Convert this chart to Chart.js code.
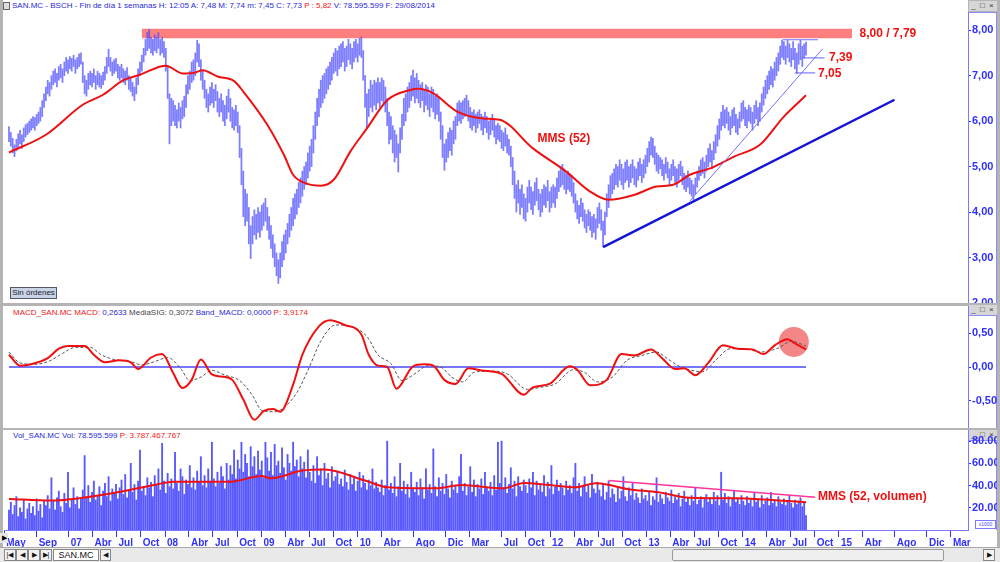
<!DOCTYPE html>
<html>
<head>
<meta charset="utf-8">
<script src="https://cdn.jsdelivr.net/npm/chart.js@4.4.1/dist/chart.umd.min.js"></script>
<style>
  body { margin: 0; width: 1000px; height: 562px; overflow: hidden; position: relative; background: #b4b4b4; font-family: "Liberation Sans", Arial, sans-serif; }
  .abs { position: absolute; }
  .pane { position: absolute; left: 3px; width: 965px; background: #fff; }
  .axcol { position: absolute; left: 968px; width: 28px; background: #fff; border-right: 1px solid #8c8cff; border-top: 1px solid #8c8cff; }
  .winbtn { position: absolute; left: 969px; width: 28px; height: 10px; font-size: 8px; line-height: 10px; color: #333; letter-spacing: 1px; text-align: center; background: #d6d6d6; }
  .ttl { position: absolute; left: 13px; font-size: 8px; line-height: 10px; white-space: nowrap; color: #2a2ad8; }
  .red { color: #f01818; }
  .dk { color: #444; }
  canvas { position: absolute; left: 0; }
  .btn { position: absolute; top: 549px; height: 10px; font-size: 7px; line-height: 10px; text-align: center; background: #f2f2f2; border: 1px solid #888; color: #111; }
</style>
</head>
<body>
<div class="pane" style="top:0;height:303px"></div>
<div class="pane" style="top:306px;height:122px"></div>
<div class="pane" style="top:430px;height:117px;width:994px"></div>
<div class="axcol" style="top:12px;height:290px"></div>
<div class="axcol" style="top:315px;height:112px"></div>
<div class="axcol" style="top:440px;height:89px"></div>
<div class="winbtn" style="top:1px">_ &#9633; &#215;</div>
<div class="winbtn" style="top:305px">_ &#9633; &#215;</div>
<div class="winbtn" style="top:430px">_ &#9633; &#215;</div>
<div class="abs" style="left:3px;top:2px;width:5px;height:6px;border:1px solid #666;background:#ddd"></div>

<div class="ttl" style="top:1px;left:12px">SAN.MC - BSCH - Fin de día 1 semanas H: 12:05 A: 7,48 M: 7,74 m: 7,45 C: 7,73 <span class="red">P : 5,82</span> V: 78.595.599 F: 29/08/2014</div>
<div class="ttl" style="top:308px"><span class="red">MACD_SAN.MC MACD:</span> 0,2633 <span class="dk">MediaSIG: 0,3072</span> Band_MACD: 0,0000 <span class="red">P: 3,9174</span></div>
<div class="ttl" style="top:431px">Vol_SAN.MC Vol: 78.595.599 <span class="red">P: 3.787.467.767</span></div>

<canvas id="cPrice" width="997" height="291" style="top:12px"></canvas>
<canvas id="cMacd" width="997" height="122" style="top:306px"></canvas>
<canvas id="cVol" width="997" height="117" style="top:430px"></canvas>

<div class="abs" style="left:10px;top:287px;width:45px;height:10px;border:1px solid #556;background:#c9d3e6;font-size:8px;line-height:10px;text-align:center;color:#223">Sin órdenes</div>
<div class="abs" style="left:975px;top:520px;width:19px;height:7px;border:1px solid #7a7aff;background:#fff;font-size:5px;line-height:7px;color:#44f;text-align:center">x1000</div>
<div class="abs" style="left:0;top:533px;width:8px;height:10px;background:#e6e6e6;font-size:7px;line-height:10px;text-align:center">&#9654;</div>

<div class="abs" style="left:0;top:547px;width:1000px;height:15px;background:#e9e9e9;border-top:1px solid #a8a8a8"></div>
<div class="btn" style="left:4px;width:10px">|&#9664;</div>
<div class="btn" style="left:16px;width:10px">&#9664;</div>
<div class="btn" style="left:28px;width:10px">&#9654;</div>
<div class="btn" style="left:40px;width:10px">&#9654;|</div>
<div class="btn" style="left:53px;width:44px;background:#fff;font-size:9px">SAN.MC</div>
<div class="btn" style="left:100px;width:9px">&#9664;</div>
<div class="btn" style="left:672px;width:270px;background:#efefef;border-color:#9a9a9a;border-radius:2px"></div>
<div class="btn" style="left:983px;width:10px">&#9654;</div>

<script>
// weekly bars, first one on 19 May 2006, last one on 29 Aug 2014 (x = week number)
const START = Date.UTC(2006, 4, 19);

const priceLow = [
  5.55,5.45,5.30,5.22,5.35,5.42,5.50,5.40,5.55,5.65, 5.70,5.75,5.80,5.85,5.80,5.90,5.95,6.00,6.10,6.30,
  6.45,6.60,6.55,6.70,6.80,6.85,6.75,6.90,6.95,6.85, 7.00,7.10,7.05,7.15,7.10,7.20,7.05,7.15,7.20,7.25,
  6.85,6.60,6.55,6.70,6.80,6.75,6.85,6.70,6.80,6.75, 6.72,6.80,6.90,7.05,7.20,7.10,7.00,7.05,7.10,6.95,
  6.90,6.95,6.85,6.80,6.90,6.70,6.65,6.55,6.45,6.60, 6.80,7.00,7.10,7.30,7.45,7.55,7.60,7.50,7.45,7.55,
  7.50,7.60,7.45,7.50,7.40,7.10,6.50,5.50,5.90,6.00, 5.90,5.85,6.00,5.85,6.05,6.10,6.30,6.60,6.70,6.85,
  6.90,7.00,7.30,7.20,6.90,6.70,6.50,6.30,6.20,6.35, 6.40,6.30,6.45,6.20,6.10,6.20,6.00,5.90,6.05,6.20,
  6.00,5.85,5.80,5.90,5.75,5.20,4.60,3.90,3.70,3.80, 3.30,2.98,3.30,3.50,3.40,3.55,3.45,3.60,3.70,3.80,
  3.60,3.40,3.20,3.00,2.80,2.60,2.43,2.55,2.80,2.95, 3.10,3.30,3.45,3.60,3.70,3.85,3.95,4.10,4.20,4.35,
  4.50,4.60,4.75,4.90,5.00,5.30,5.60,5.90,6.10,6.30, 6.40,6.50,6.60,6.70,6.80,6.90,7.05,7.10,7.00,7.15,
  7.20,7.30,7.10,7.20,7.35,7.25,7.15,7.30,7.40,7.30, 7.45,7.40,6.90,6.30,5.85,6.10,6.30,6.20,6.35,6.25,
  6.40,6.30,6.45,6.35,6.20,5.90,5.50,5.60,5.30,5.10, 5.20,4.88,5.30,5.60,5.90,6.00,6.20,6.30,6.45,6.55,
  6.40,6.50,6.40,6.30,6.45,6.20,6.35,6.25,6.10,6.30, 6.20,6.05,6.15,6.00,5.60,5.20,4.92,5.10,5.20,5.35,
  5.25,5.50,5.60,5.90,6.00,5.95,6.05,6.10,6.15,6.00, 5.85,5.80,5.90,5.75,5.85,5.95,5.80,5.70,5.85,5.75,
  5.60,5.70,5.80,5.65,5.50,5.60,5.55,5.40,5.35,5.45, 5.30,5.25,5.00,4.60,4.30,4.00,4.20,3.95,4.10,3.85,
  3.80,4.00,4.20,4.05,3.95,4.15,4.25,4.05,3.90,4.00, 4.15,4.10,4.25,4.00,4.10,4.20,4.10,4.30,4.45,4.55,
  4.60,4.50,4.40,4.50,4.45,4.35,4.20,4.00,3.85,3.75, 3.90,3.80,3.65,3.55,3.70,3.60,3.45,3.55,3.40,3.65,
  3.75,3.60,3.24,3.50,3.90,4.10,4.30,4.40,4.50,4.60, 4.55,4.70,4.60,4.50,4.65,4.70,4.55,4.65,4.75,4.60,
  4.55,4.70,4.80,4.65,4.75,4.85,5.00,5.10,5.25,5.20, 5.05,4.90,4.85,4.95,4.80,4.70,4.85,4.75,4.60,4.70,
  4.80,4.65,4.55,4.70,4.80,4.60,4.50,4.45,4.55,4.40, 4.35,4.27,4.40,4.55,4.70,4.80,4.85,4.75,4.90,5.00,
  5.10,4.95,5.15,5.30,5.45,5.60,5.80,5.90,5.85,5.95, 5.80,5.70,5.85,5.90,5.75,5.70,5.85,6.00,6.05,5.90,
  5.85,6.00,5.95,5.80,5.95,6.05,5.90,6.00,6.20,6.35, 6.50,6.60,6.70,6.80,6.75,6.90,7.00,7.10,7.25,7.40,
  7.35,7.25,7.40,7.30,7.20,7.35,7.15,7.05,7.25,7.35, 7.20,7.39,7.45
];
const priceHigh = [
  5.88,5.75,5.62,5.48,5.60,5.72,5.80,5.70,5.85,5.92, 5.95,6.00,6.05,6.10,6.08,6.15,6.20,6.30,6.45,6.60,
  6.75,6.90,6.85,7.00,7.10,7.15,7.05,7.20,7.25,7.15, 7.30,7.40,7.35,7.42,7.38,7.45,7.35,7.40,7.48,7.50,
  7.30,7.00,6.90,7.05,7.10,7.05,7.15,7.00,7.10,7.05, 7.00,7.08,7.20,7.40,7.58,7.40,7.30,7.35,7.38,7.25,
  7.20,7.25,7.15,7.10,7.18,7.00,6.95,6.85,6.75,6.95, 7.15,7.30,7.45,7.60,7.80,7.95,8.02,7.85,7.80,7.90,
  7.85,7.95,7.80,7.85,7.75,7.60,7.20,6.60,6.50,6.45, 6.35,6.25,6.40,6.30,6.45,6.55,6.80,7.00,7.10,7.30,
  7.35,7.50,7.78,7.70,7.35,7.10,6.90,6.70,6.60,6.75, 6.85,6.70,6.80,6.65,6.50,6.60,6.45,6.35,6.55,6.70,
  6.50,6.30,6.25,6.35,6.20,5.90,5.40,4.90,4.50,4.40, 4.10,3.70,3.90,4.05,3.95,4.10,4.00,4.15,4.20,4.30,
  4.10,3.90,3.70,3.50,3.30,3.10,2.95,3.10,3.35,3.50, 3.60,3.75,3.95,4.10,4.30,4.40,4.50,4.65,4.75,4.90,
  5.00,5.10,5.30,5.45,5.60,5.90,6.20,6.50,6.70,6.90, 7.00,7.05,7.15,7.20,7.30,7.40,7.50,7.60,7.55,7.65,
  7.70,7.75,7.60,7.65,7.80,7.70,7.60,7.75,7.80,7.70, 7.82,7.85,7.55,7.00,6.60,6.70,6.90,6.80,6.90,6.85,
  6.95,6.85,6.95,6.90,6.75,6.50,6.20,6.10,5.90,5.80, 5.70,5.50,5.85,6.15,6.50,6.60,6.75,6.85,7.00,7.12,
  6.95,7.05,6.90,6.80,6.85,6.70,6.80,6.75,6.60,6.75, 6.70,6.55,6.60,6.50,6.20,5.90,5.50,5.60,5.75,5.85,
  5.80,6.00,6.10,6.40,6.45,6.40,6.45,6.50,6.57,6.45, 6.30,6.20,6.25,6.15,6.20,6.25,6.15,6.10,6.20,6.10,
  6.00,6.05,6.15,6.05,5.90,5.95,5.90,5.80,5.75,5.85, 5.70,5.60,5.45,5.20,4.90,4.60,4.70,4.50,4.60,4.40,
  4.30,4.55,4.70,4.55,4.45,4.65,4.75,4.50,4.40,4.50, 4.60,4.55,4.70,4.45,4.55,4.60,4.55,4.75,4.90,5.00,
  5.05,4.95,4.85,4.90,4.85,4.80,4.65,4.40,4.25,4.15, 4.30,4.20,4.05,3.95,4.05,4.00,3.90,3.95,3.85,4.10,
  4.20,4.05,3.80,4.00,4.40,4.60,4.80,4.85,4.95,5.05, 5.00,5.15,5.05,4.95,5.10,5.15,5.00,5.05,5.15,5.00,
  4.95,5.10,5.18,5.05,5.15,5.25,5.40,5.55,5.65,5.62, 5.45,5.30,5.25,5.20,5.15,5.05,5.20,5.10,4.95,5.05,
  5.15,5.00,4.95,5.05,5.12,5.00,4.85,4.80,4.90,4.75, 4.70,4.60,4.75,4.90,5.00,5.15,5.20,5.10,5.25,5.40,
  5.50,5.35,5.55,5.70,5.90,6.05,6.20,6.35,6.25,6.30, 6.20,6.10,6.25,6.30,6.15,6.05,6.20,6.40,6.45,6.30,
  6.25,6.35,6.30,6.20,6.35,6.45,6.30,6.40,6.60,6.75, 6.90,7.00,7.10,7.20,7.15,7.30,7.40,7.50,7.65,7.78,
  7.75,7.65,7.78,7.70,7.60,7.75,7.60,7.50,7.70,7.78, 7.65,7.70,7.74
];
// weekly volume, millions of shares
const volume = [
  18,25,14,22,30,12,20,16,27,10,19,24,15,21,13,28,17,23,11,26,
  22,31,19,47,26,18,29,35,21,16,33,24,52,20,27,38,23,30,19,28,
  36,67,29,40,25,34,44,27,31,39,22,35,42,30,48,26,37,33,41,28,
  38,45,32,50,29,36,60,34,41,27,44,72,35,39,31,47,38,43,30,49,
  40,55,36,78,44,33,51,39,46,37,70,42,35,55,48,32,45,41,58,38,
  47,36,53,43,66,40,49,38,55,44,79,46,39,52,42,57,48,37,60,45,
  58,50,72,46,63,55,79,52,68,60,48,75,57,66,50,71,54,62,47,79,
  65,53,70,49,77,58,62,51,74,56,45,68,60,53,79,57,63,48,66,55,
  61,47,72,52,44,58,42,66,49,55,40,60,46,51,38,57,44,48,53,41,
  46,39,54,43,36,50,41,47,35,44,52,38,49,42,36,45,40,55,37,43,
  38,34,45,31,40,80,36,42,33,48,30,39,60,35,44,32,41,29,52,37,
  34,43,31,46,38,28,55,36,41,33,73,39,30,47,35,42,32,50,37,29,
  44,36,40,33,48,68,35,42,31,39,57,34,45,30,41,37,46,32,52,38,
  35,43,31,49,36,79,42,80,38,47,33,41,56,37,44,30,48,39,35,45,
  40,33,46,38,52,31,44,36,41,34,49,30,43,37,58,32,39,45,35,42,
  38,31,44,36,40,33,47,60,35,42,30,39,48,34,41,29,50,37,33,43,
  36,30,41,27,34,44,29,37,32,25,39,28,35,48,30,26,38,31,42,27,
  33,29,24,37,28,31,26,35,22,30,27,47,25,32,28,23,34,29,26,36,
  24,30,27,33,21,28,35,25,29,22,31,26,38,23,27,30,20,28,32,25,
  29,23,34,26,31,22,52,27,33,24,30,21,28,35,25,29,23,31,26,22,
  30,24,27,21,33,25,28,20,31,23,26,29,22,34,24,27,21,30,25,23,
  28,22,26,31,24,20,27,23,25,29,21,24,13
];
// [week, value]
const mms52 = [
  [0,5.31],[20,5.70],[40,6.36],[51,6.58],[62,6.90],[71,7.02],[85,7.22],[94,7.05],[100,7.06],[105,7.12],
  [113,6.98],[122,6.88],[127,6.65],[140,5.92],[149,5.26],[154,4.82],[161,4.63],[169,4.58],[176,4.71],[185,5.33],
  [194,5.84],[205,6.46],[217,6.68],[222,6.71],[230,6.61],[243,6.21],[257,6.06],[266,6.03],[284,5.40],[302,4.89],
  [315,4.45],[325,4.27],[339,4.38],[351,4.56],[360,4.60],[369,4.82],[380,4.96],[393,5.22],[407,5.48],[420,6.10],[432,6.57]
];
const macd = [
  [0,0.18],[6,0.02],[12,0.04],[21,0.13],[27,0.27],[32,0.31],[41,0.31],[46,0.18],[52,0.07],[60,0.10],
  [66,0.07],[70,-0.03],[77,0.14],[83,0.19],[89,-0.09],[94,-0.31],[99,-0.19],[104,0.11],[110,-0.11],[115,-0.14],
  [121,-0.19],[127,-0.48],[133,-0.78],[138,-0.65],[143,-0.62],[147,-0.66],[154,-0.26],[159,0.18],[168,0.60],[174,0.69],
  [182,0.62],[191,0.48],[195,0.18],[200,0.02],[205,0.00],[210,-0.32],[219,0.01],[225,0.04],[230,0.02],[236,-0.19],
  [242,-0.25],[249,-0.02],[256,-0.05],[267,-0.10],[279,-0.41],[284,-0.30],[293,-0.25],[304,0.01],[308,-0.04],[315,-0.27],
  [324,-0.19],[332,0.19],[339,0.17],[348,0.26],[354,0.13],[361,-0.03],[366,-0.02],[372,-0.12],[379,0.06],[387,0.32],
  [395,0.27],[403,0.26],[409,0.19],[415,0.32],[422,0.41],[426,0.35],[432,0.26]
];
const macdSignal = [
  [0,0.22],[6,0.06],[14,0.04],[22,0.09],[29,0.20],[36,0.29],[44,0.29],[50,0.18],[57,0.11],[66,0.08],
  [72,0.03],[79,0.08],[86,0.14],[93,-0.02],[98,-0.20],[104,-0.15],[110,-0.05],[117,-0.12],[125,-0.20],[132,-0.42],
  [137,-0.64],[144,-0.66],[149,-0.60],[156,-0.38],[162,-0.05],[169,0.38],[177,0.62],[185,0.60],[194,0.45],[200,0.18],
  [207,0.05],[213,-0.20],[221,-0.08],[227,0.02],[234,0.00],[240,-0.15],[246,-0.22],[252,-0.08],[261,-0.06],[270,-0.10],
  [281,-0.33],[288,-0.30],[296,-0.25],[306,-0.04],[312,-0.08],[319,-0.22],[327,-0.15],[335,0.10],[343,0.17],[351,0.22],
  [357,0.12],[364,0.00],[370,-0.05],[376,-0.07],[383,0.10],[391,0.27],[399,0.27],[407,0.22],[417,0.28],[424,0.38],[432,0.31]
];
const volMms52 = [
  [0,28],[23,26.5],[52,32],[80,41],[89,43.5],[120,43.5],[137,48.5],[142,46.5],[159,53.5],[171,54.5],
  [193,44.5],[205,38.5],[231,37.5],[245,40.5],[268,37.5],[279,42.3],[293,40.5],[307,38.4],[318,42],[324,41],
  [335,37],[352,34],[369,29],[392,28.5],[409,27.5],[432,25]
];
// drawn lines on the price pane: [[week, price], [week, price]]
const supportLine = [[322,3.23],[480,6.47]];
const shortTrend = [[369,4.24],[441,7.59]];
const resistBand = [[72,8.03],[457,8.03]];   // filled down to 7.82
const topLine = [[419.5,7.79],[438.5,7.79]];
const line739 = [[430,7.39],[442,7.39]];
const line705 = [[426,7.06],[437,7.06]];
const volTrend = [[325,44.5],[437,29.5]];

const tickMonths = [
  [2006,5],[2006,9],[2007,1],[2007,4],[2007,7],[2007,10],[2008,1],[2008,4],[2008,7],[2008,10],
  [2009,1],[2009,4],[2009,7],[2009,10],[2010,1],[2010,4],[2010,8],[2010,12],[2011,3],[2011,7],
  [2011,10],[2012,1],[2012,4],[2012,7],[2012,10],[2013,1],[2013,4],[2013,7],[2013,10],[2014,1],
  [2014,4],[2014,7],[2014,10],[2015,1],[2015,4],[2015,8],[2015,12],[2016,3]
];
const tickLabels = ['May','Sep','07','Abr','Jul','Oct','08','Abr','Jul','Oct','09','Abr','Jul','Oct','10','Abr','Ago','Dic','Mar','Jul',
  'Oct','12','Abr','Jul','Oct','13','Abr','Jul','Oct','14','Abr','Jul','Oct','15','Abr','Ago','Dic','Mar'];
const priceTicks = [2, 3, 4, 5, 6, 7, 8];
const macdTicks = [-0.5, 0, 0.5];
const volTicks = [20, 40, 60, 80];

const BLUE = '#3030ff';
const AXIS = '#7a7aff';
const RED = '#f01010';
Chart.defaults.font.family = '"Liberation Sans", Arial, sans-serif';

const pts = arr => arr.map(([x, y]) => ({x, y}));
const tickWeeks = tickMonths.map(([y, m]) => (Date.UTC(y, m - 1, 1) - START) / (7 * 864e5));

// red text notes placed in data coordinates
const notesPlugin = {
  id: 'notes',
  afterDatasetsDraw(chart, args, opts) {
    const {ctx, scales} = chart;
    ctx.save();
    ctx.font = 'bold 12px "Liberation Sans", Arial';
    ctx.fillStyle = RED;
    ctx.textBaseline = 'middle';
    (opts.items || []).forEach(n => {
      ctx.fillText(n.text, scales.x.getPixelForValue(n.x), scales.y.getPixelForValue(n.y));
    });
    ctx.restore();
  }
};

function xScale(show) {
  const s = {
    type: 'linear', min: -2.7, max: 519.8, offset: false, display: show,
    grid: {offset: false, drawOnChartArea: false, color: BLUE, tickLength: 7},
    border: {color: AXIS}
  };
  if (show) {
    s.afterFit = sc => { sc.height = 17; sc.paddingLeft = 0; sc.paddingRight = 0; };
    s.afterBuildTicks = sc => { sc.ticks = tickWeeks.map(v => ({value: v})); };
    s.ticks = {
      autoSkip: false, maxRotation: 0, align: 'start', padding: 0, labelOffset: 2,
      color: BLUE, font: {size: 10, weight: 'bold'},
      callback: (v, i) => tickLabels[i]
    };
  }
  return s;
}

function yScale(min, max, ticks, fmt) {
  return {
    position: 'right', min, max,
    afterBuildTicks: sc => { sc.ticks = ticks.map(v => ({value: v})); },
    afterFit: sc => { sc.width = 29; sc.paddingTop = 0; sc.paddingBottom = 0; },
    border: {color: AXIS},
    grid: {drawOnChartArea: false, color: BLUE, tickLength: 3},
    ticks: {padding: 1, color: BLUE, font: {size: 11, weight: 'bold'}, callback: fmt}
  };
}

const baseOpts = {
  responsive: false, animation: false, events: [],
  layout: {autoPadding: false, padding: {left: 4, right: 0, top: 0, bottom: 0}},
};
const comma = v => v.toFixed(2).replace('.', ',');

const weeks = priceLow.map((_, i) => i);

new Chart(document.getElementById('cPrice'), {
  type: 'bar',
  data: {
    datasets: [
      {type: 'line', data: pts(resistBand), borderWidth: 0, pointRadius: 0,
       backgroundColor: 'rgba(255,95,95,0.8)', fill: {value: 7.82}, order: 20},
      {type: 'bar', data: weeks.map(i => ({x: i, y: [priceLow[i], priceHigh[i]]})),
       backgroundColor: 'rgba(75,75,255,0.72)', barThickness: 1.1, order: 10},
      {type: 'line', data: pts(mms52), borderColor: '#ee1111', borderWidth: 2, pointRadius: 0,
       cubicInterpolationMode: 'monotone', order: 3},
      {type: 'line', data: pts(supportLine), borderColor: '#1414d8', borderWidth: 2.5, pointRadius: 0, order: 2},
      {type: 'line', data: pts(shortTrend), borderColor: '#7070ff', borderWidth: 1, pointRadius: 0, order: 2},
      {type: 'line', data: pts(topLine), borderColor: '#7070ff', borderWidth: 1, pointRadius: 0, order: 2},
      {type: 'line', data: pts(line739), borderColor: '#6060ff', borderWidth: 1, pointRadius: 0, order: 2},
      {type: 'line', data: pts(line705), borderColor: '#6060ff', borderWidth: 1, pointRadius: 0, order: 2}
    ]
  },
  options: {
    ...baseOpts,
    scales: {x: xScale(false), y: yScale(2, 8.4, priceTicks, comma)},
    plugins: {
      legend: {display: false}, tooltip: {enabled: false},
      notes: {items: [
        {text: '8,00 / 7,79', x: 461, y: 7.93},
        {text: '7,39', x: 444.5, y: 7.39},
        {text: '7,05', x: 438.5, y: 7.05},
        {text: 'MMS (52)', x: 286.5, y: 5.61}
      ]}
    }
  },
  plugins: [notesPlugin]
});

new Chart(document.getElementById('cMacd'), {
  type: 'line',
  data: {
    datasets: [
      {type: 'bubble', data: [{x: 425.4, y: 0.37, r: 15}], backgroundColor: 'rgba(236,60,60,0.62)',
       borderWidth: 0, order: 20},
      {data: pts([[0, 0], [432, 0]]), borderColor: '#4848ff', borderWidth: 1.5, pointRadius: 0, order: 10},
      {data: pts(macdSignal), borderColor: '#555', borderWidth: 1, borderDash: [3, 2], pointRadius: 0,
       cubicInterpolationMode: 'monotone', order: 5},
      {data: pts(macd), borderColor: '#f01010', borderWidth: 2, pointRadius: 0,
       cubicInterpolationMode: 'monotone', order: 1}
    ]
  },
  options: {
    ...baseOpts,
    scales: {x: xScale(false), y: yScale(-0.9, 0.9, macdTicks, comma)},
    plugins: {legend: {display: false}, tooltip: {enabled: false}}
  }
});

new Chart(document.getElementById('cVol'), {
  type: 'bar',
  data: {
    datasets: [
      {type: 'bar', data: volume.map((v, i) => ({x: i, y: v})), backgroundColor: '#5858ff',
       barThickness: 1.2, order: 10},
      {type: 'line', data: pts(volMms52), borderColor: '#ee1111', borderWidth: 2, pointRadius: 0,
       cubicInterpolationMode: 'monotone', order: 2},
      {type: 'line', data: pts(volTrend), borderColor: '#ff3399', borderWidth: 1.5, pointRadius: 0, order: 1}
    ]
  },
  options: {
    ...baseOpts,
    scales: {
      x: xScale(true),
      y: yScale(0, 90, volTicks, v => v.toFixed(0) + '.000')
    },
    plugins: {
      legend: {display: false}, tooltip: {enabled: false},
      notes: {items: [{text: 'MMS (52, volumen)', x: 438.5, y: 29.7}]}
    }
  },
  plugins: [notesPlugin]
});
</script>
</body>
</html>
